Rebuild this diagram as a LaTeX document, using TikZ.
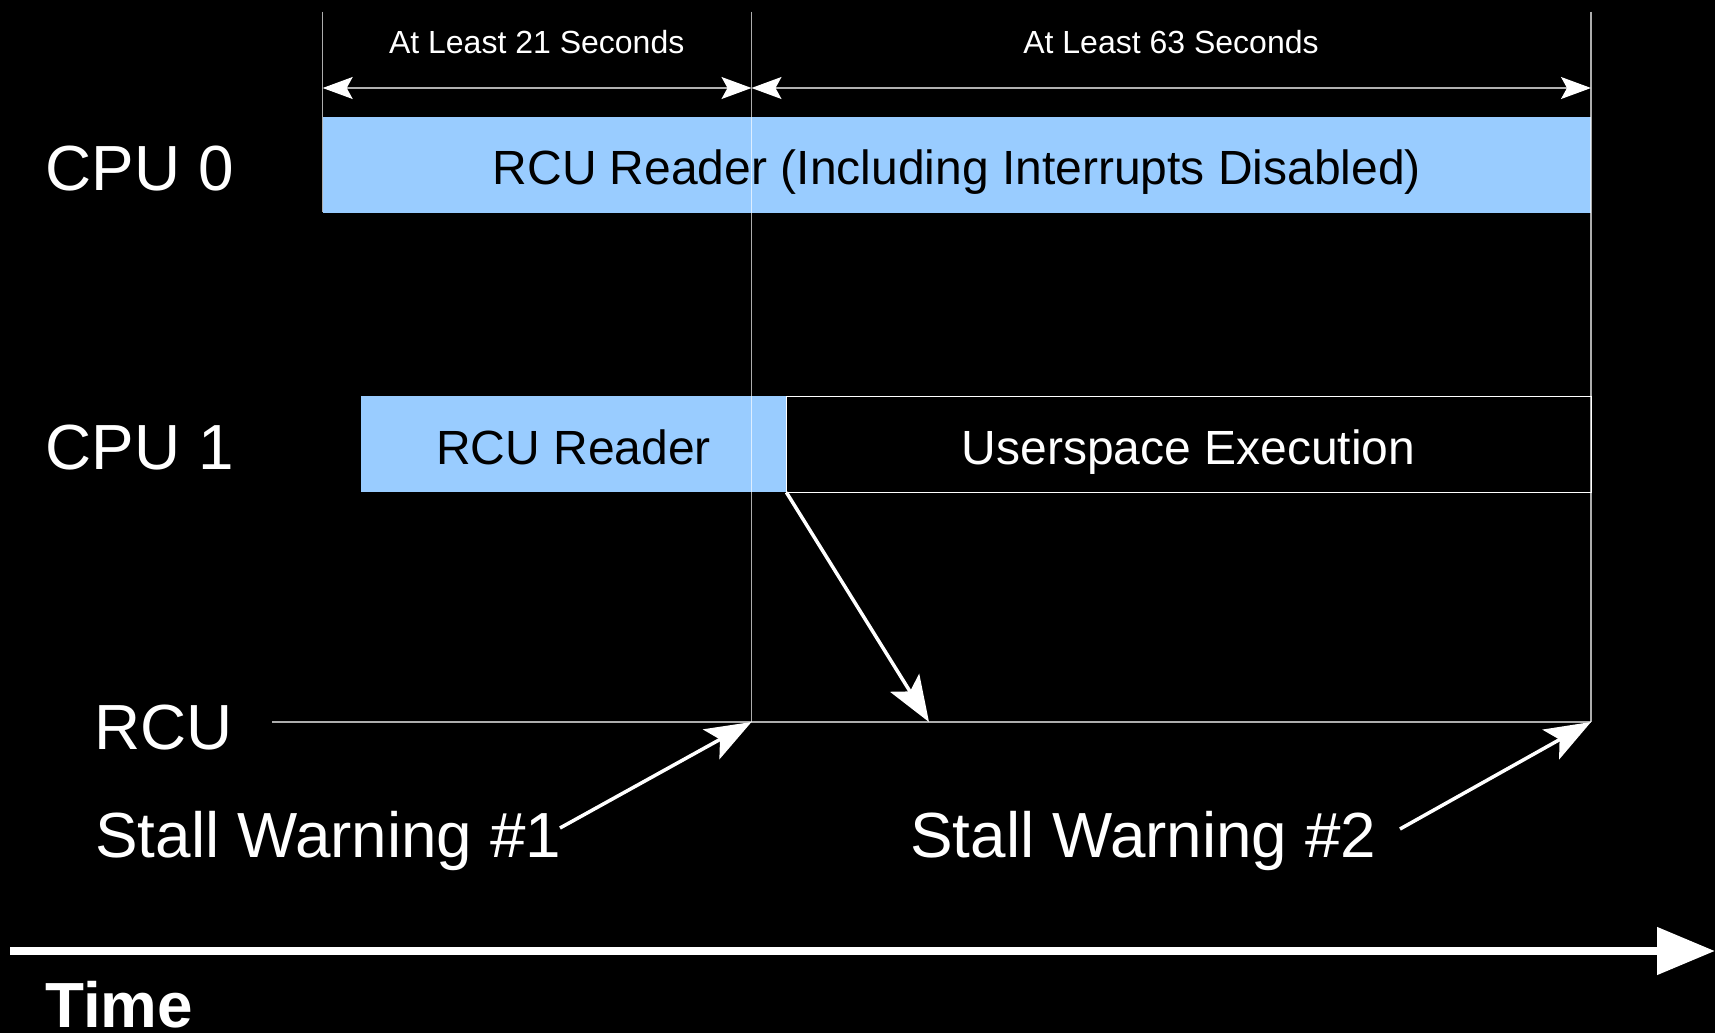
\documentclass[tikz,border=0pt]{standalone}
\usepackage{fontspec}
\setmainfont{Liberation Sans}
\usetikzlibrary{arrows.meta}
\definecolor{readerblue}{HTML}{99CCFF}
\definecolor{guidegray}{HTML}{B0B0B0}

\begin{document}
\begin{tikzpicture}[x=0.5pt, y=-0.5pt,
    bar/.style={fill=readerblue, inner sep=0pt, minimum height=48pt, text height=20pt, text depth=0pt, font=\fontsize{24}{28}\selectfont},
    rowlabel/.style={anchor=base west, inner sep=0pt, text=white, font=\fontsize{31.9}{36}\selectfont},
    durlabel/.style={anchor=base, inner sep=0pt, text=white, font=\fontsize{16}{19}\selectfont},
    guide/.style={draw=white, draw opacity=0.68, line width=0.7pt},
    dimarrow/.style={draw=guidegray, line width=0.6pt, {Stealth[length=15pt, width=11pt, inset=3pt, white]}-{Stealth[length=15pt, width=11pt, inset=3pt, white]}},
    warnarrow/.style={draw=white, line width=1.75pt, -{Stealth[length=23pt, width=17pt, inset=5pt, white]}},
    timeaxis/.style={draw=white, line width=4pt, -{Triangle[length=29pt, width=23pt, white]}}]
    \useasboundingbox (0,0) rectangle (1715,1033);
    \fill[black] (0,0) rectangle (1715,1033);

    % rows
    \node[bar, minimum width=634.2pt] (cpu0bar) at (956.9,164.5) {RCU Reader (Including Interrupts Disabled)};
    \node[bar, minimum width=212.5pt] (cpu1reader) at (573.5,444) {RCU Reader};
    \node[bar, fill=black, draw=white, line width=0.5pt, text=white, minimum width=402.5pt] (userspace) at (1188.5,444) {Userspace Execution};

    \node[rowlabel] (cpu0) at (45.5,190.7) {CPU 0};
    \node[rowlabel] (cpu1) at (45.5,469) {CPU 1};
    \node[rowlabel] (rcu) at (94,749) {RCU};
    \node[rowlabel] (warn1) at (95,857) {Stall Warning \#1};
    \node[rowlabel] (warn2) at (910,857) {Stall Warning \#2};
    \node[rowlabel, font=\fontsize{31.9}{36}\selectfont\bfseries] (time) at (45,1027) {Time};

    \node[durlabel] (dur21) at (536.7,53.3) {At Least 21 Seconds};
    \node[durlabel] (dur63) at (1171,53.3) {At Least 63 Seconds};

    % guide lines
    \coordinate (top0) at (322.7,11.7);
    \coordinate (top1) at (751.5,11.7);
    \coordinate (top2) at (1591,11.7);
    \coordinate (bot0) at (322.7,212);
    \coordinate (gp1) at (751.5,722);
    \coordinate (gp2) at (1591,722);
    \coordinate (rcustart) at (272,722);
    \draw[guide] (top0) -- (bot0);
    \draw[guide] (top1) -- (gp1);
    \draw[guide] (top2) -- (gp2);
    \draw[guide] (rcustart) -- (gp2);

    \coordinate (dim0) at (322.7,88);
    \coordinate (dim1) at (751.5,88);
    \coordinate (dim2) at (1591,88);
    \draw[dimarrow] (dim0) -- (dim1);
    \draw[dimarrow] (dim1) -- (dim2);

    % arrows
    \coordinate (qs) at (929,722);
    \coordinate (w1from) at (560,828);
    \coordinate (w2from) at (1400,829);
    \draw[warnarrow] (cpu1reader.south east) -- (qs);
    \draw[warnarrow] (w1from) -- (gp1);
    \draw[warnarrow] (w2from) -- (gp2);

    \coordinate (tstart) at (10,951);
    \coordinate (tend) at (1715,951);
    \draw[timeaxis] (tstart) -- (tend);
\end{tikzpicture}
\end{document}
